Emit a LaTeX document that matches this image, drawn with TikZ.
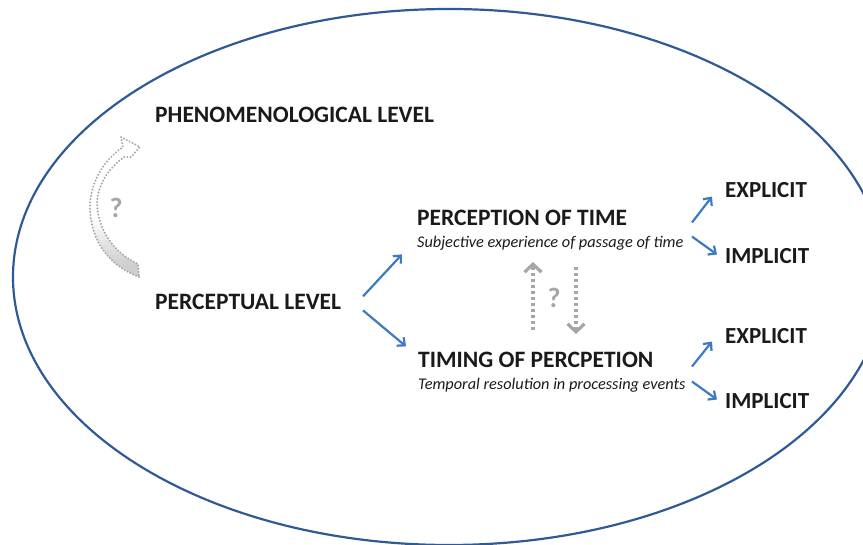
\documentclass[tikz,border=0pt]{standalone}
\usepackage{fontspec}
\setmainfont{Carlito}
\usetikzlibrary{arrows.meta,calc}
\definecolor{ellblue}{HTML}{2F5A96}
\definecolor{arrblue}{HTML}{3C7BC4}
\definecolor{dotgray}{HTML}{A6A6A6}
\definecolor{txt}{HTML}{1A1A1A}
\tikzset{
  ellipseline/.style={draw=ellblue, line width=2.2pt},
  lvl/.style={anchor=base west, inner sep=0pt, text=txt, font=\fontsize{23.5}{26}\selectfont\bfseries},
  sublbl/.style={anchor=base west, inner sep=0pt, text=txt, font=\fontsize{16.3}{19}\selectfont\itshape},
  exlbl/.style={anchor=base west, inner sep=0pt, text=txt, font=\fontsize{23}{26}\selectfont\bfseries},
  barrow/.style={draw=arrblue, line width=2.2pt, -{Straight Barb[length=6pt,width=11pt,line width=2.2pt]}},
  garrow/.style={draw=dotgray, line width=3.2pt, dash pattern=on 3pt off 3pt, -{Straight Barb[length=8pt,width=17pt,line width=3.2pt]}},
  crescent/.style={draw=dotgray, line width=2.2pt, line cap=round, dash pattern=on 0pt off 3.2pt},
  qmark/.style={inner sep=0pt, text=dotgray, font=\fontsize{28}{30}\selectfont\bfseries}
}
\begin{document}
\begin{tikzpicture}[x=1pt,y=-1pt]
\useasboundingbox (0,0) rectangle (863,545);
\draw[ellipseline] (449,277) ellipse [x radius=436, y radius=268];

\node[lvl] (phen) at (155,123) {PHENOMENOLOGICAL LEVEL};
\node[lvl] (perc) at (155,310) {PERCEPTUAL LEVEL};
\node[lvl] (pot) at (417,226) {PERCEPTION OF TIME};
\node[sublbl] (potsub) at (417,248) {Subjective experience of passage of time};
\node[lvl] (top) at (418,368) {TIMING OF PERCPETION};
\node[sublbl] (topsub) at (418,390) {Temporal resolution in processing events};
\node[exlbl] (ex1) at (725,198) {EXPLICIT};
\node[exlbl] (im1) at (725,264) {IMPLICIT};
\node[exlbl] (ex2) at (725,344) {EXPLICIT};
\node[exlbl] (im2) at (725,409) {IMPLICIT};

% blue arrows
\draw[barrow] ($(perc.west)+(208,-6)$) -- ($(pot.west)+(-15,36)$);
\draw[barrow] ($(perc.west)+(208,8)$) -- ($(top.west)+(-12,-14)$);
\draw[barrow] ($(ex1.west)+(-33,32)$) -- ($(ex1.west)+(-13,6)$);
\draw[barrow] ($(im1.west)+(-33,-20)$) -- ($(im1.west)+(-8,-2)$);
\draw[barrow] ($(ex2.west)+(-33,30)$) -- ($(ex2.west)+(-13,5)$);
\draw[barrow] ($(im2.west)+(-33,-20)$) -- ($(im2.west)+(-8,-2)$);

% gray dotted arrows
\coordinate (upstart) at (533,330);
\coordinate (uptip) at (533,262);
\coordinate (downstart) at (576,267);
\coordinate (downend) at (576,334);
\draw[garrow] (upstart) -- (uptip);
\draw[garrow] (downstart) -- (downend);
\node[qmark] (q2) at (554,298) {?};

% curved crescent arrow
\begin{scope}
\clip
  (139,277) .. controls (105,264) and (89,236) .. (90,203)
  .. controls (92,180) and (104,160) .. (123,147)
  -- (121,137) -- (140,147) -- (131,157) -- (124,157)
  .. controls (109,168) and (97,185) .. (97,204)
  .. controls (98,230) and (114,253) .. (138,264) -- cycle;
\foreach \i in {0,...,13} {
  \pgfmathsetmacro{\g}{min(38,\i*4)}
  \fill[gray!\g] (80,215+\i*5) rectangle (150,220.5+\i*5);
}
\end{scope}
\draw[crescent]
  (139,277) .. controls (105,264) and (89,236) .. (90,203)
  .. controls (92,180) and (104,160) .. (123,147)
  -- (121,137) -- (140,147) -- (131,157) -- (124,157)
  .. controls (109,168) and (97,185) .. (97,204)
  .. controls (98,230) and (114,253) .. (138,264) -- cycle;
\node[qmark] (q1) at (116,208) {?};
\end{tikzpicture}
\end{document}
